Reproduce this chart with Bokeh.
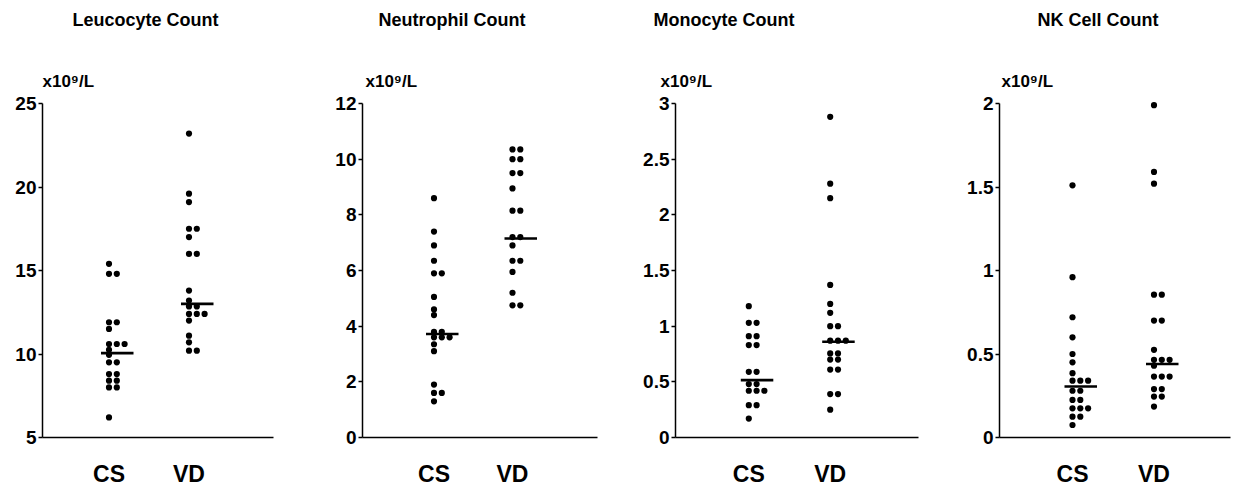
from collections import Counter
from bokeh.plotting import figure
from bokeh.models import Range1d, FixedTicker, Title, CustomJSTickFormatter
from bokeh.layouts import row
from bokeh.embed import file_html
from bokeh.resources import INLINE

# ---------------- data ----------------
groups = ["CS", "VD"]
titles = ["Leucocyte Count", "Neutrophil Count", "Monocyte Count", "NK Cell Count"]
unit_label = "x10\u2079/L"

leuco_cs = [15.4, 14.8, 14.8, 11.9, 11.9, 11.5, 10.6, 10.6, 10.6, 10.25, 9.95,
            9.5, 9.5, 8.8, 8.8, 8.4, 8.4, 8.0, 8.0, 6.2]
leuco_vd = [23.2, 19.6, 19.1, 17.5, 17.5, 17.0, 16.0, 16.0, 13.8, 13.2, 12.85, 12.85,
            12.4, 12.4, 12.4, 12.0, 11.1, 10.7, 10.2, 10.2]
leuco_median = [10.05, 13.0]
leuco_ticks = [5, 10, 15, 20, 25]

neut_cs = [8.6, 7.4, 6.9, 6.35, 5.9, 5.9, 5.05, 4.6, 4.4, 3.8, 3.8, 3.6, 3.6, 3.6,
           3.35, 3.1, 1.9, 1.6, 1.6, 1.3]
neut_vd = [10.35, 10.35, 10.0, 10.0, 9.5, 9.5, 8.95, 8.15, 8.15, 7.2, 7.2, 6.9,
           6.35, 6.35, 5.95, 5.2, 4.75, 4.75]
neut_median = [3.72, 7.15]
neut_ticks = [0, 2, 4, 6, 8, 10, 12]

mono_cs = [1.18, 1.03, 1.03, 0.91, 0.91, 0.83, 0.83, 0.59, 0.59, 0.48, 0.48,
           0.42, 0.42, 0.42, 0.29, 0.29, 0.17]
mono_vd = [2.88, 2.28, 2.15, 1.37, 1.2, 1.12, 1.0, 1.0, 0.87, 0.87, 0.87, 0.755, 0.755,
           0.70, 0.70, 0.61, 0.61, 0.39, 0.39, 0.25]
mono_median = [0.515, 0.86]
mono_ticks = [0, 0.5, 1, 1.5, 2, 2.5, 3]

nk_cs = [1.51, 0.96, 0.72, 0.60, 0.50, 0.45, 0.385, 0.34, 0.34, 0.34, 0.28, 0.28,
         0.225, 0.225, 0.175, 0.175, 0.175, 0.125, 0.125, 0.075]
nk_vd = [1.99, 1.59, 1.52, 0.855, 0.855, 0.70, 0.70, 0.525, 0.465, 0.465, 0.465, 0.43,
         0.365, 0.365, 0.365, 0.29, 0.29, 0.245, 0.245, 0.185]
nk_median = [0.305, 0.44]
nk_ticks = [0, 0.5, 1, 1.5, 2]

panels = [
    (titles[0], [leuco_cs, leuco_vd], leuco_median, leuco_ticks),
    (titles[1], [neut_cs, neut_vd], neut_median, neut_ticks),
    (titles[2], [mono_cs, mono_vd], mono_median, mono_ticks),
    (titles[3], [nk_cs, nk_vd], nk_median, nk_ticks),
]

# ---------------- layout (pixels) ----------------
layout = [
    dict(width=318, left=42, fw=231, cs_px=66.5, ppu=80.0, title_off=30, unit_off=0),
    dict(width=310, left=44, fw=235, cs_px=71.5, ppu=78.5, title_off=16, unit_off=3),
    dict(width=310, left=47, fw=243, cs_px=73.3, ppu=81.4, title_off=-22, unit_off=-15),
    dict(width=295, left=61, fw=231, cs_px=73.0, ppu=81.5, title_off=38, unit_off=2),
]
H = 489
TOP = 95
BOTTOM = 52
TICK_SPAN_PX = 334
EXT_PX = 8
FONT = "Liberation Sans"

figs = []
for (title, vals, med, ticks), L in zip(panels, layout):
    ppu = L["ppu"]
    x0 = 1 - L["cs_px"] / ppu
    x1 = x0 + L["fw"] / ppu
    lo, hi = ticks[0], ticks[-1]
    hi_ext = hi + EXT_PX * (hi - lo) / TICK_SPAN_PX

    p = figure(width=L["width"], height=H, output_backend="svg", toolbar_location=None,
               title=None, x_range=Range1d(x0, x1), y_range=Range1d(lo, hi_ext),
               min_border_left=L["left"], min_border_right=L["width"] - L["left"] - L["fw"],
               min_border_top=TOP, min_border_bottom=BOTTOM,
               background_fill_color="white", border_fill_color="white",
               outline_line_color=None)
    p.grid.visible = False

    step = 7.8 / ppu
    xs, ys = [], []
    for gi, gv in enumerate(vals):
        seen = Counter()
        for v in gv:
            xs.append(gi + 1 + seen[v] * step)
            ys.append(v)
            seen[v] += 1
    p.scatter(x=xs, y=ys, size=6.2, fill_color="black", line_color=None)
    p.segment(x0=[g + 1 - 8 / ppu for g in range(2)], x1=[g + 1 + 24.5 / ppu for g in range(2)],
              y0=med, y1=med, line_width=2.6, line_color="black")

    ya = p.yaxis[0]
    ya.ticker = FixedTicker(ticks=ticks)
    ya.bounds = (lo, hi)
    ya.formatter = CustomJSTickFormatter(code="return String(tick)")
    ya.axis_line_width = 1.5
    ya.axis_line_color = "black"
    ya.major_tick_line_width = 1.5
    ya.major_tick_line_color = "black"
    ya.major_tick_out = 4
    ya.major_tick_in = 0
    ya.minor_tick_out = 0
    ya.minor_tick_in = 0
    ya.major_label_standoff = 2
    ya.major_label_text_font = FONT
    ya.major_label_text_font_size = "19px"
    ya.major_label_text_font_style = "bold"
    ya.major_label_text_color = "black"

    xa = p.xaxis[0]
    xa.ticker = FixedTicker(ticks=[1, 2])
    xa.major_label_overrides = {1: groups[0], 2: groups[1]}
    xa.axis_line_width = 1.5
    xa.axis_line_color = "black"
    xa.major_tick_line_color = None
    xa.major_tick_out = 0
    xa.major_tick_in = 0
    xa.minor_tick_line_color = None
    xa.minor_tick_out = 0
    xa.minor_tick_in = 0
    xa.major_label_standoff = 23
    xa.major_label_text_font = FONT
    xa.major_label_text_font_size = "23px"
    xa.major_label_text_font_style = "bold"
    xa.major_label_text_color = "black"

    p.add_layout(Title(text=unit_label, align="left", offset=L["unit_off"], text_font=FONT,
                       text_font_size="17px", text_font_style="bold", text_color="black",
                       standoff=9, vertical_align="bottom"), "above")
    p.add_layout(Title(text=" ", text_font_size="1px", standoff=27), "above")
    p.add_layout(Title(text=title, align="left", offset=L["title_off"], text_font=FONT,
                       text_font_size="18px", text_font_style="bold", text_color="black",
                       standoff=8, vertical_align="top"), "above")
    figs.append(p)

layout_row = row(figs)
open("out.html", "w").write(file_html(layout_row, INLINE))
